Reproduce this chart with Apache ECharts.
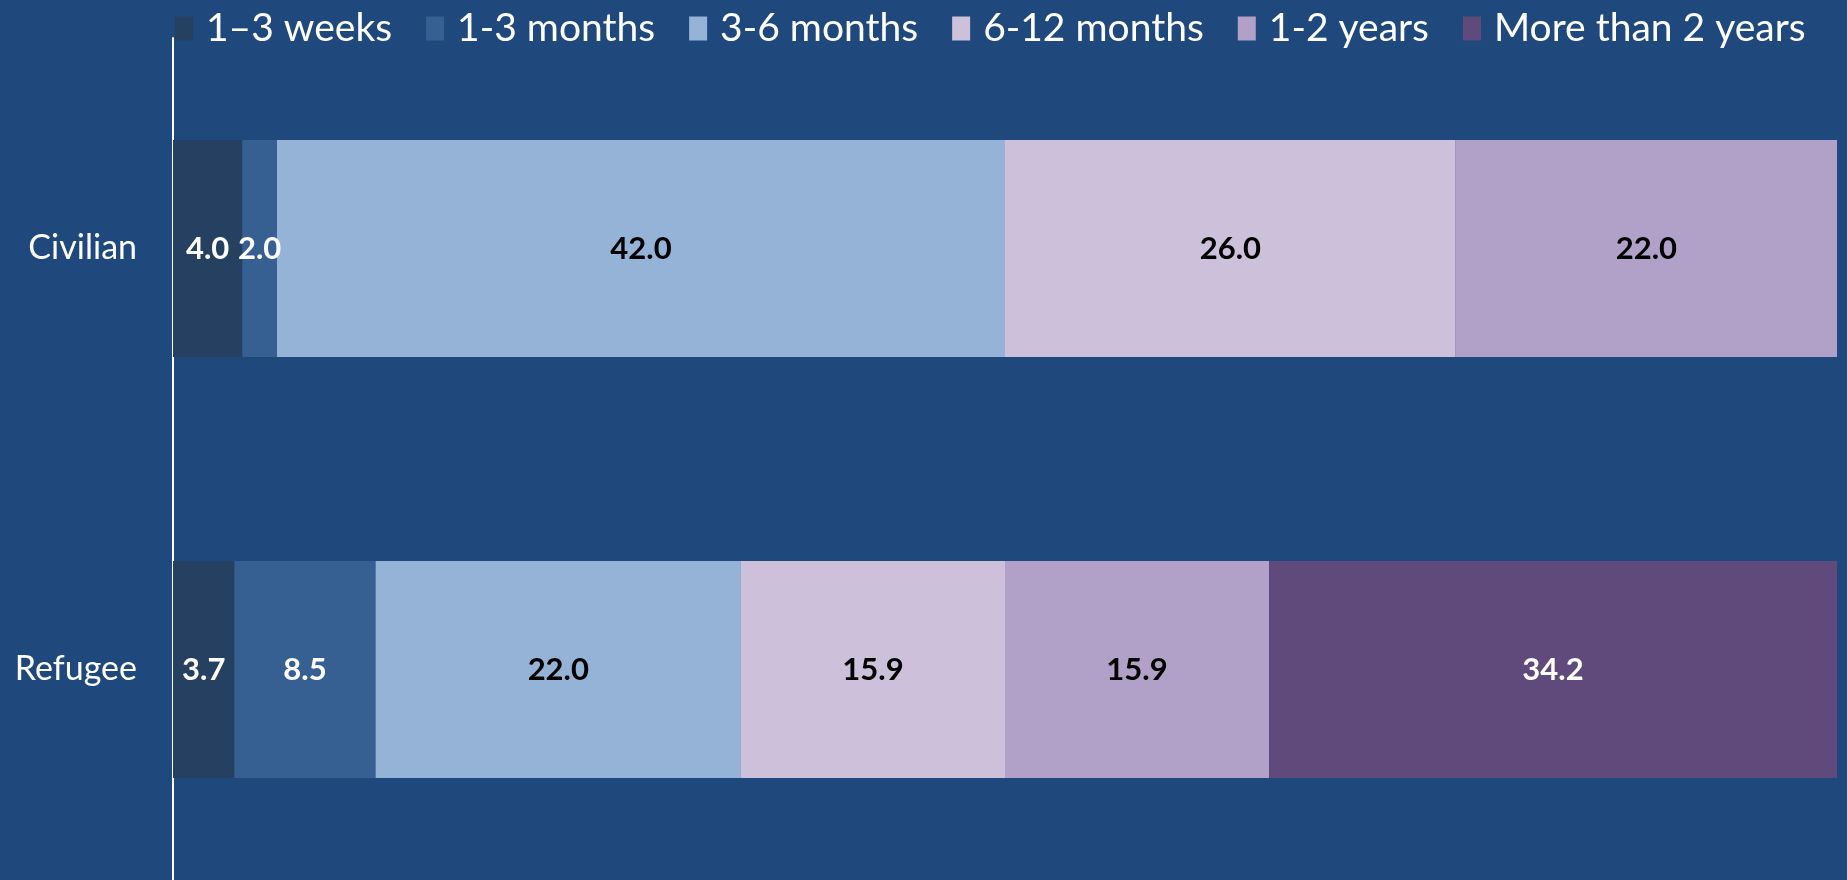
<!DOCTYPE html>
<html>
<head>
<meta charset="utf-8">
<script src="https://cdn.jsdelivr.net/npm/echarts@6/dist/echarts.min.js"></script>
<style>
  html, body { margin: 0; padding: 0; background: #1F497D; }
  #chart { width: 1847px; height: 880px; }
</style>
</head>
<body>
<div id="chart"></div>
<script>
const categories = ['Civilian', 'Refugee']
const seriesNames = ['1–3 weeks', '1-3 months', '3-6 months', '6-12 months', '1-2 years', 'More than 2 years']

// raw values per duration, [Civilian, Refugee]
const weeks1to3 = [4.0, 3.7]
const months1to3 = [2.0, 8.5]
const months3to6 = [42.0, 22.0]
const months6to12 = [26.0, 15.9]
const years1to2 = [22.0, 15.9]
const moreThan2Years = [0, 34.2]

const seriesValues = [weeks1to3, months1to3, months3to6, months6to12, years1to2, moreThan2Years]
const colors = ['#264061', '#366092', '#95B3D7', '#CCC0DA', '#B1A0C7', '#604A7B']
const labelColors = ['#ffffff', '#ffffff', '#000000', '#000000', '#000000', '#ffffff']

const fontFamily = 'Lato, "Open Sans", sans-serif'

// 100% stacked: each bar is scaled to its category total
const totals = categories.map((c, i) => seriesValues.reduce((s, arr) => s + arr[i], 0))

const chart = echarts.init(document.getElementById('chart'))

const option = {
  backgroundColor: '#1F497D',
  textStyle: { fontFamily: fontFamily },
  legend: {
    top: 4,
    left: 170,
    itemWidth: 18,
    itemHeight: 24,
    itemGap: 34,
    icon: 'rect',
    selectedMode: false,
    textStyle: {
      color: '#ffffff',
      fontSize: 39,
      fontFamily: fontFamily,
      padding: [0, 0, 0, 8]
    },
    data: seriesNames
  },
  grid: {
    left: 173,
    right: 10,
    top: 38,
    height: 850
  },
  xAxis: {
    type: 'value',
    min: 0,
    max: 100,
    show: false
  },
  yAxis: {
    type: 'category',
    inverse: true,
    data: categories,
    axisLine: { lineStyle: { color: '#ffffff', width: 2 } },
    axisTick: { show: false },
    axisLabel: {
      color: '#ffffff',
      fontSize: 34,
      fontFamily: fontFamily,
      margin: 36
    }
  },
  series: seriesNames.map((name, k) => ({
    name: name,
    type: 'bar',
    stack: 'total',
    barWidth: 217,
    itemStyle: { color: colors[k] },
    label: {
      show: true,
      position: 'inside',
      color: labelColors[k],
      fontSize: 31,
      fontWeight: 'bold',
      fontFamily: fontFamily,
      formatter: (p) => seriesValues[k][p.dataIndex] ? seriesValues[k][p.dataIndex].toFixed(1) : ''
    },
    data: seriesValues[k].map((v, i) => v / totals[i] * 100)
  })),
  animation: false
}

chart.setOption(option)
</script>
</body>
</html>
